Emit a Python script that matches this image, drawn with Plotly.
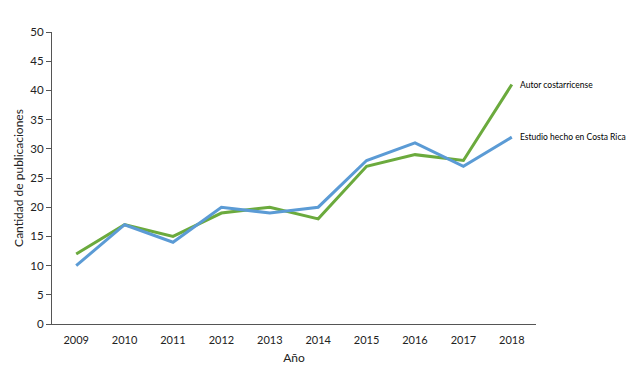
import plotly.graph_objects as go

years = ["2009", "2010", "2011", "2012", "2013", "2014", "2015", "2016", "2017", "2018"]
autor_cr = [12, 17, 15, 19, 20, 18, 27, 29, 28, 41]
estudio_cr = [10, 17, 14, 20, 19, 20, 28, 31, 27, 32]
series_names = ["Autor costarricense", "Estudio hecho en Costa Rica"]
y_ticks = [0, 5, 10, 15, 20, 25, 30, 35, 40, 45, 50]

GREEN = "#6BAA3D"
BLUE = "#5B9BD5"
FONT = "Lato, Carlito, 'Open Sans', sans-serif"

fig = go.Figure()
fig.add_trace(go.Scatter(x=years, y=autor_cr, mode="lines", name=series_names[0],
                         line=dict(color=GREEN, width=3)))
fig.add_trace(go.Scatter(x=years, y=estudio_cr, mode="lines", name=series_names[1],
                         line=dict(color=BLUE, width=3)))

last = len(years) - 1
for name, vals in zip(series_names, [autor_cr, estudio_cr]):
    fig.add_annotation(x=last, y=vals[-1], xref="x", yref="y", text=name, showarrow=False,
                       xanchor="left", yanchor="middle", xshift=6,
                       font=dict(family=FONT, size=8.5, color="#000"))

fig.update_layout(
    width=642, height=369,
    margin=dict(l=52, r=106, t=32, b=45),
    paper_bgcolor="white", plot_bgcolor="white",
    showlegend=False,
    font=dict(family=FONT, size=11, color="#222"),
    xaxis=dict(type="category", range=[-0.5, 9.5], showline=True, linecolor="#555",
               linewidth=1, showgrid=False, ticks="", zeroline=False, automargin=False,
               ticklabelstandoff=6,
               tickfont=dict(size=11), title=dict(text="Año", font=dict(size=12), standoff=8)),
    yaxis=dict(range=[0, 50], tickvals=y_ticks, showline=True, linecolor="#555", linewidth=1,
               showgrid=False, ticks="outside", ticklen=5, tickcolor="#555", zeroline=False,
               automargin=False, tickfont=dict(size=11.5),
               title=dict(text="Cantidad de publicaciones", font=dict(size=12), standoff=4)),
)

fig.write_html("out.html", config={"displayModeBar": False},
               post_script="document.body.style.margin='0';")
